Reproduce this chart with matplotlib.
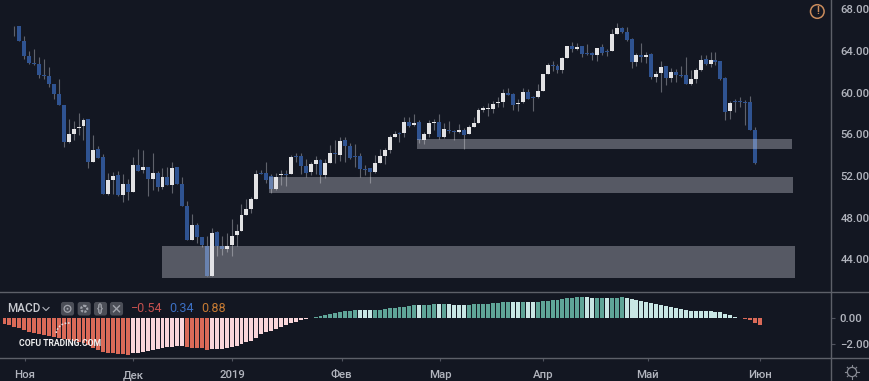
import matplotlib
matplotlib.use("Agg")
import matplotlib.pyplot as plt
from matplotlib.patches import FancyBboxPatch, Circle, Arc
import numpy as np

plt.rcParams['font.family'] = ['Roboto', 'DejaVu Sans']

BG = '#131722'
opens = [66.40,66.40,66.42,
 66.41,64.94,63.56,62.88,62.72,61.73,61.63,60.80,59.84,58.85,55.28,56.02,56.60,56.80,57.44,53.37,54.58,53.78,50.29,51.60,52.08,50.19,51.20,50.48,53.08,52.53,52.88,51.70,52.24,50.90,51.89,51.12,52.82,51.19,49.13,45.83,47.31,46.15,45.29,42.40,46.57,45.29,45.00,45.32,46.28,46.73,48.24,48.78,49.74,52.24,52.24,51.95,50.74,52.05,52.18,
 52.18,53.90,53.91,52.98,52.34,53.17,53.53,52.05,53.27,54.20,54.00,55.42,54.84,53.94,53.94,52.70,52.72,52.40,53.27,53.90,54.45,55.77,56.10,56.12,57.21,56.86,57.15,55.45,56.03,57.08,57.21,55.70,56.41,56.31,56.22,56.41,55.99,56.73,57.10,58.33,58.40,58.40,59.00,59.07,59.94,59.87,58.87,59.07,60.10,59.55,59.55,60.13,61.80,62.63,62.56,62.18,63.30,64.49,64.23,
 64.49,63.78,63.78,63.59,64.39,64.00,64.00,65.67,66.19,65.83,65.13,62.92,63.62,63.46,63.68,61.54,61.92,62.56,61.44,61.95,61.70,61.70,60.80,61.34,62.18,63.20,62.72,63.14,63.01,61.41,58.20,59.23,59.17,59.10,59.07,56.38]
highs = [66.43,66.43,66.45,
 66.41,65.45,64.04,64.17,63.40,63.20,62.44,60.80,61.35,58.85,57.44,57.28,58.01,57.56,57.44,55.90,54.87,54.10,52.27,52.34,52.50,52.18,51.67,53.85,54.55,54.49,52.88,54.17,52.47,52.79,52.82,53.30,52.82,51.92,49.58,48.33,47.50,46.15,46.20,46.95,46.70,46.20,46.47,47.82,47.37,49.29,49.78,50.00,52.56,52.56,53.30,52.18,52.24,52.56,52.56,
 54.00,54.23,54.23,53.65,53.33,53.94,53.65,53.65,55.00,55.45,55.70,55.77,55.13,55.03,54.17,53.04,52.72,54.00,54.58,54.65,55.93,56.35,56.18,57.69,57.69,57.92,57.37,56.25,57.37,57.44,57.92,57.05,57.31,56.41,56.98,56.57,56.86,57.63,58.49,58.70,58.97,59.20,59.62,60.38,60.42,59.94,59.42,60.42,60.32,59.68,60.83,61.80,62.88,63.00,62.80,63.40,64.49,64.87,64.74,
 64.49,64.68,63.94,64.33,64.65,64.17,66.09,66.67,66.35,66.28,65.29,63.78,64.81,63.94,63.78,62.12,63.04,62.56,62.34,62.24,62.56,63.46,62.18,62.37,63.59,63.62,63.88,63.91,63.08,61.54,59.23,59.36,59.62,59.30,59.71,56.67]
lows = [66.38,66.38,65.45,
 64.94,63.20,62.80,62.63,61.40,61.35,60.50,59.36,58.78,54.80,55.19,55.45,55.93,55.45,52.79,53.37,53.75,50.29,50.16,50.22,50.10,49.49,49.68,50.48,52.50,52.24,50.10,50.64,50.58,50.77,51.12,50.38,51.19,49.10,45.83,45.83,45.58,45.13,42.40,42.40,44.29,44.39,44.71,44.29,45.26,46.73,48.24,48.40,49.74,52.15,51.35,50.38,50.64,51.10,51.07,
 52.18,53.36,52.15,51.86,52.12,52.21,51.35,51.83,53.20,53.20,53.40,53.30,53.60,52.88,51.86,52.08,51.28,52.30,53.20,53.14,54.17,55.70,55.29,55.77,56.73,56.80,55.13,55.06,55.70,56.41,55.51,55.64,56.09,55.45,56.09,54.60,55.99,56.73,57.10,58.17,57.79,58.00,58.65,58.59,59.80,58.33,58.24,59.00,59.36,58.27,59.52,60.13,61.80,62.10,61.92,61.86,63.30,63.88,64.10,
 63.46,63.62,63.14,63.08,63.59,63.53,64.00,65.67,65.74,65.00,62.34,62.56,62.98,62.88,61.28,61.06,60.06,60.77,61.00,61.06,61.47,60.80,60.70,60.96,62.12,62.63,62.50,62.63,61.20,57.37,57.50,58.17,58.65,56.89,56.38,53.17]
closes = [66.38,66.38,66.40,
 64.94,63.53,62.88,62.78,61.70,61.63,60.80,59.84,58.85,55.26,55.99,56.54,56.73,57.37,53.37,54.52,53.75,50.29,51.57,52.02,50.19,51.20,50.48,53.08,52.50,52.88,51.70,52.24,50.90,51.86,51.12,52.79,51.19,49.10,45.83,47.27,46.15,45.32,42.40,46.54,45.29,45.00,45.29,46.25,46.73,48.20,48.78,49.74,52.15,52.15,51.57,50.74,51.92,52.18,52.08,
 53.78,53.81,52.98,52.31,53.17,53.49,52.05,53.27,54.17,54.07,55.35,54.84,53.69,53.80,52.63,52.60,52.40,53.24,53.90,54.45,55.74,55.99,56.00,57.21,56.80,57.10,55.45,56.03,57.05,57.22,55.70,56.47,56.31,56.22,56.38,55.96,56.73,57.10,58.30,58.49,58.49,58.94,59.07,59.94,59.80,58.85,59.04,60.03,59.42,59.45,60.13,61.80,62.63,62.53,62.18,63.30,64.49,64.17,64.42,
 63.72,63.68,63.59,64.33,63.78,63.88,65.64,66.19,65.80,65.06,62.92,63.62,63.46,63.62,61.54,61.83,62.50,61.41,61.95,61.67,61.60,60.80,61.31,62.18,63.14,62.72,63.17,62.98,61.34,58.17,59.04,59.10,59.10,59.04,56.38,53.24]

macd_hist = [-.50,-.55,-.68,-.80,-.93,-1.05,-1.18,-1.25,-1.28,-1.38,-1.48,-1.52,-1.60,-1.68,-1.78,-1.85,-1.93,-2.05,-2.30,-2.42,-2.55,-2.63,-2.68,-2.70,-2.72,-2.78,
 -2.68,-2.62,-2.55,-2.50,-2.42,-2.36,-2.30,-2.22,-2.18,-2.12,-2.12,-2.18,-2.25,-2.28,-2.30,-2.42,-2.38,-2.35,-2.33,-2.30,-2.22,-2.12,-1.95,-1.85,-1.72,-1.55,-1.22,-1.10,-1.03,-.88,-.68,-.58,-.43,-.33,-.18,-.08,0,
 .03,.10,.18,.28,.35,.40,.48,.50,.55,.58,.58,.58,.55,.55,.62,.70,.75,.78,.82,.90,.95,.98,.98,.98,1.03,1.05,1.05,1.00,.98,.98,.98,.98,1.00,1.03,1.03,1.05,1.08,1.12,1.18,1.18,1.18,1.18,1.18,1.15,1.18,1.18,
 1.25,1.25,1.33,1.35,1.40,1.45,1.48,1.52,1.55,1.55,1.48,1.45,1.48,1.48,1.48,1.48,1.52,1.48,1.40,1.33,1.25,1.18,1.12,1.05,.95,.85,.78,.70,.62,.58,.50,.48,.48,.48,.48,.43,.40,.28,.18,.05,0,
 -.08,-.18,-.38,-.55]
pale_bars = list(range(26, 37)) + list(range(42, 63)) + [72, 73, 74, 84, 88, 90, 91, 92, 93, 103, 104, 106, 107, 118, 119, 122] + list(range(126, 150))

zone_low = [42.18, 50.36, 54.62]
zone_high = [45.26, 51.93, 55.52]
zone_start = [32.0, 53.5, 83.55]
zone_end = [160.1, 159.8, 159.6]

price_ticks = [44, 48, 52, 56, 60, 64, 68]
macd_ticks = [0, -2]
date_pos = [4.15, 26.0, 46.1, 68.3, 88.3, 109.1, 130.3, 153.1]
date_labels = ['Ноя', 'Дек', '2019', 'Фев', 'Мар', 'Апр', 'Май', 'Июн']

W, H = 870, 381
fig = plt.figure(figsize=(W/100, H/100), dpi=100, facecolor=BG)
ax = fig.add_axes([0, (H-292)/H, 831.5/W, 292/H], facecolor=BG)
ax2 = fig.add_axes([0, (H-358)/H, 831.5/W, 65/H], facecolor=BG)

x = np.arange(len(opens))
o, h, l, c = map(np.array, (opens, highs, lows, closes))
UP, DOWN, WICK = '#e2e2e4', '#2f5391', '#5f626b'
ax.vlines(x, l, h, color=WICK, lw=0.8, zorder=2)
col = [DOWN if a > b else UP for a, b in zip(o, c)]
ax.bar(x, np.abs(c-o), bottom=np.minimum(o, c), width=0.8, color=col, lw=0, zorder=3)
for a, b, s, e in zip(zone_low, zone_high, zone_start, zone_end):
    ax.fill_between([s, e], a, b, color='#e6e6f0', alpha=0.32, lw=0, zorder=4)

xlim = (-0.91, 167.5)
ax.set_xlim(xlim)
ax.set_ylim(40.84, 68.91)
ax.set_xticks([])
ax.yaxis.tick_right()
ax.set_yticks(price_ticks)
ax.set_yticklabels([f'{t:.2f}' for t in price_ticks], fontsize=8.2, fontweight='medium', color='#b2b5be')
ax.tick_params(axis='y', length=0, pad=6.5)

xm = np.arange(len(macd_hist))
mcol = []
for i, v in zip(xm, macd_hist):
    pale = i in pale_bars
    if v < 0:
        mcol.append('#f9d6da' if pale else '#da6a58')
    else:
        mcol.append('#c8e6e4' if pale else '#5fa598')
ax2.bar(xm, macd_hist, width=0.8, color=mcol, lw=0)
ax2.set_xlim(xlim)
ax2.set_ylim(-3.03, 1.857)
ax2.set_xticks(date_pos)
ax2.set_xticklabels(date_labels, fontsize=8.2, fontweight='medium', color='#b2b5be')
ax2.tick_params(axis='x', length=2, color='#50535e', pad=7)
ax2.yaxis.tick_right()
ax2.set_yticks(macd_ticks)
ax2.set_yticklabels(['0.00', '\u22122.00'], fontsize=8.2, fontweight='medium', color='#b2b5be')
ax2.tick_params(axis='y', length=3, color='#50535e', pad=3)
for a in (ax, ax2):
    for s in a.spines.values():
        s.set_visible(False)

ov = fig.add_axes([0, 0, 1, 1], zorder=10)
ov.set_xlim(0, W); ov.set_ylim(H, 0); ov.axis('off'); ov.patch.set_alpha(0)
LINE = '#5d6069'
ov.plot([0, W], [292, 292], color=LINE, lw=1)
ov.plot([0, W], [358, 358], color=LINE, lw=1)
ov.plot([831.5, 831.5], [0, H], color=LINE, lw=1)

# legend
ov.text(7, 309, 'MACD', color='#c8cad0', fontsize=8.4, fontweight='medium', va='center', ha='left')
ov.plot([43, 46, 49], [307.5, 310.5, 307.5], color='#b2b5be', lw=0.8)
for bx in (61, 77.7, 94, 110):
    ov.add_patch(FancyBboxPatch((bx+1, 303), 11, 11.5, boxstyle='round,pad=0,rounding_size=1.5',
                                fc='#4b4e57', ec='#4b4e57', lw=1.5))
ICON = '#a0a3ab'
ov.add_patch(Circle((67.5, 308.8), 3.4, fc='none', ec=ICON, lw=0.9))
ov.add_patch(Circle((67.5, 308.8), 1.0, fc=ICON, ec='none'))
ov.add_patch(Circle((84.2, 308.8), 3.0, fc='none', ec=ICON, lw=1.6, ls=(0, (1, 0.6))))
ov.text(100.5, 308.5, '{}', color=ICON, fontsize=7.5, ha='center', va='center', fontweight='bold')
ov.plot([113.5, 119.5], [305.8, 311.8], color=ICON, lw=1)
ov.plot([113.5, 119.5], [311.8, 305.8], color=ICON, lw=1)
ov.text(131, 309, '\u22120.54', color='#c4504e', fontsize=9, va='center', ha='left')
ov.text(169, 309, '0.34', color='#3c70c4', fontsize=9, va='center', ha='left')
ov.text(201, 309, '0.88', color='#c77b33', fontsize=9, va='center', ha='left')

# watermark
ov.text(19, 344, 'COFU TRADING.COM', color='#f0f0f0', fontsize=6.2, fontweight='bold', va='center', ha='left')
ov.add_patch(Arc((68, 335), 24, 24, theta1=190, theta2=280, ec='#e8d8d8', lw=1.2, ls=(0, (1, 1))))

# warning icon
ORG = '#c98b5c'
ov.add_patch(Circle((817.3, 11.5), 6.8, fc='none', ec=ORG, lw=1.1))
ov.text(817.3, 11.3, '!', color=ORG, fontsize=7.5, ha='center', va='center', fontweight='bold')

# settings gear
GEAR = '#868993'
ov.add_patch(Circle((852, 372), 4.6, fc='none', ec=GEAR, lw=0.9))
for t in np.deg2rad(np.arange(0, 360, 45)):
    ov.plot([852+4.6*np.cos(t), 852+6.6*np.cos(t)], [372+4.6*np.sin(t), 372+6.6*np.sin(t)], color=GEAR, lw=0.8)

# clipped axis label at the pane bottom
t = ov.text(851, 362.5, '\u22124.00', color='#b2b5be', fontsize=8.2, ha='center', va='center', clip_on=True)
t.set_clip_path(plt.Rectangle((832, 340), 38, 18, transform=ov.transData))

fig.savefig('out.png', dpi=100, facecolor=BG)
